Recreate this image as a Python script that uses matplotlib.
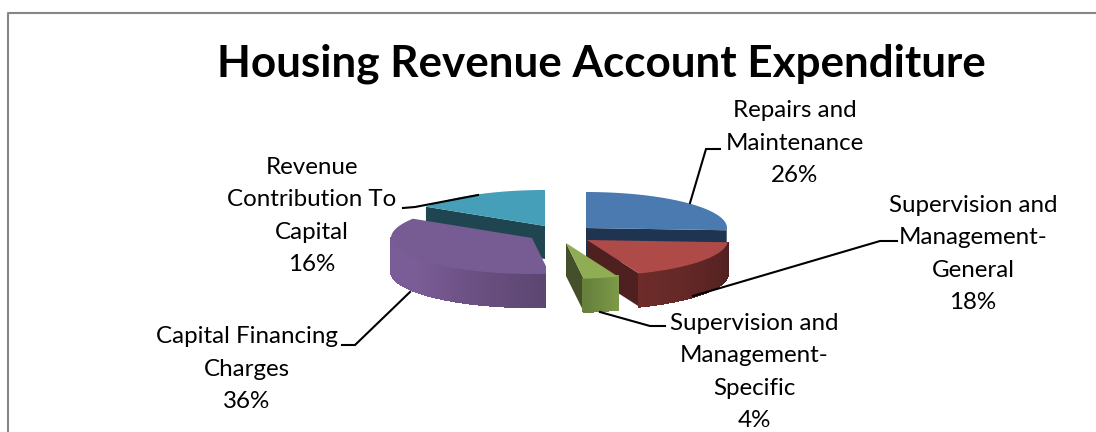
import matplotlib
matplotlib.use("Agg")
import matplotlib.pyplot as plt
import numpy as np
from matplotlib.patches import Polygon, Rectangle

plt.rcParams['font.family'] = ['Lato', 'DejaVu Sans']

title = "Housing Revenue Account Expenditure"
categories = ["Repairs and\nMaintenance", "Supervision and\nManagement-\nGeneral",
              "Supervision and\nManagement-\nSpecific", "Capital Financing\nCharges",
              "Revenue\nContribution To\nCapital"]
shares = [26, 18, 4, 36, 16]

# slice look, same order as shares
centers = [(586, 228), (587, 240), (566, 243), (532, 238), (545, 226)]
top_colors = ["#4a7ab0", "#ae4a47", "#8fae54", "#775b93", "#469fb8"]
cut_colors = ["#1f3450", "#4f2020", "#43502a", None, "#1f4650"]
cut_at_start = [False, False, False, False, True]
wall_right = [None, "#4f2020", "#7c9a48", "#5c4570", None]
wall_left = [None, "#6e2c2a", "#667f3b", "#7a5c96", None]
label_pos = [(795, 143), (973, 254), (754, 372), (247, 369), (312, 216)]
leaders = [[(690, 203), (706, 149), (720, 149)],
           [(693, 296), (880, 241), (897, 241)],
           [(600, 312), (650, 326), (665, 326)],
           [(410, 292), (355, 345), (342, 345)],
           [(478, 195), (415, 207), (403, 208)]]
draw_order = [4, 3, 0, 1, 2]

rx, ry, depth = 141, 36, 33

fig = plt.figure(figsize=(10.96, 4.32), dpi=100)
ax = fig.add_axes([0, 0, 1, 1])
ax.set_xlim(0, 1096)
ax.set_ylim(432, 0)
ax.axis("off")

ax.plot([8, 8, 1096], [432, 13, 13], color="#868686", lw=1.5)


def rim(c, a):
    return c[0] + rx * np.sin(a), c[1] - ry * np.cos(a)


def mix(c1, c2, t):
    c1 = np.array(matplotlib.colors.to_rgb(c1))
    c2 = np.array(matplotlib.colors.to_rgb(c2))
    return tuple(c1 + (c2 - c1) * t)


clip = Rectangle((0, 0), 546, 432, transform=ax.transData)
ends = np.cumsum(shares) / sum(shares) * 2 * np.pi
starts = ends - np.array(shares) / sum(shares) * 2 * np.pi

for i in draw_order:
    c = centers[i]
    a0, a1 = starts[i], ends[i]
    parts = []
    # flat cut face of the slice
    if cut_colors[i]:
        ex, ey = rim(c, a0 if cut_at_start[i] else a1)
        parts.append(Polygon([c, (ex, ey), (ex, ey + depth), (c[0], c[1] + depth)],
                             closed=True, fc=cut_colors[i], ec="none"))
    # outer wall, only the part facing us
    if wall_right[i]:
        w0, w1 = max(a0, np.pi / 2), min(a1, 3 * np.pi / 2)
        steps = np.linspace(w0, w1, 40)
        for s0, s1 in zip(steps[:-1], steps[1:]):
            t = min(1.0, (s0 - w0) / (w1 - w0) * (1.6 if i == 3 else 1.0))
            col = mix(wall_right[i], wall_left[i], t)
            p0, p1 = rim(c, s0), rim(c, s1)
            parts.append(Polygon([p0, p1, (p1[0], p1[1] + depth), (p0[0], p0[1] + depth)],
                                 closed=True, fc=col, ec=col, lw=1.0, antialiased=False))
    arc = np.linspace(a0, a1, 80)
    xs, ys = rim(c, arc)
    parts.append(Polygon([c] + list(zip(xs, ys)), closed=True,
                         fc=top_colors[i], ec="none"))
    for p in parts:
        ax.add_patch(p)
        if i in (3, 4):
            p.set_clip_path(clip)

for i in range(len(shares)):
    ax.plot(*zip(*leaders[i]), color="black", lw=1.5, solid_joinstyle="miter")
    ax.text(label_pos[i][0], label_pos[i][1], f"{categories[i]}\n{shares[i]}%",
            ha="center", va="center", fontsize=17.4, linespacing=1.68, color="black")

ax.text(601, 64, title, ha="center", va="center", fontsize=31.7, fontweight="bold", color="black")

fig.savefig("out.png", dpi=100)
